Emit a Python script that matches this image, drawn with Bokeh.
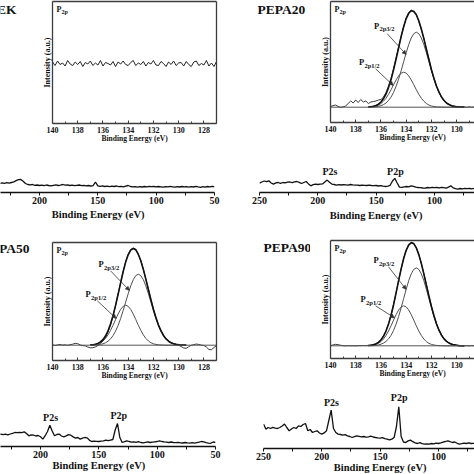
import numpy as np
from bokeh.plotting import figure
from bokeh.models import Range1d, FixedTicker, LinearAxis, Label, Arrow, NormalHead, Span, Title
from bokeh.core.properties import value
from bokeh.layouts import row, column
from bokeh.embed import file_html
from bokeh.resources import INLINE

# ---------------- survey spectra (250 -> 50 eV, 2 eV steps), intensity a.u. ----------------
survey_energy = np.linspace(250, 50, 101)
survey_ticks = [250, 200, 150, 100, 50]
survey_minor = [225, 175, 125, 75]

survey_peek = [
    8.6, 9.2, 8.4, 9.0, 8.8, 9.4, 8.7, 9.1, 9.0, 9.6,
    9.2, 9.8, 9.4, 10.0, 10.6, 11.8, 12.8, 13.0, 11.2, 9.0,
    8.0, 7.6, 8.0, 7.2, 7.5, 7.0, 7.4, 6.8, 7.5, 7.0,
    6.6, 7.2, 7.6, 7.0, 7.4, 8.0, 7.3, 7.6, 7.0, 7.4,
    6.8, 7.2, 7.5, 6.9, 7.2, 6.6, 7.0, 6.5, 6.9, 10.5,
    6.6, 6.2, 6.6, 6.0, 6.4, 5.9, 6.3, 6.0, 6.5, 5.8,
    6.1, 5.7, 6.4, 7.0, 6.0, 5.6, 5.9, 5.4, 5.8, 5.5,
    6.0, 5.7, 6.2, 5.8, 6.0, 5.6, 6.0, 5.7, 5.4, 5.9,
    5.6, 6.1, 5.7, 5.3, 5.8, 5.5, 6.0, 5.6, 5.9, 5.4,
    5.8, 5.5, 6.1, 5.6, 5.2, 5.8, 5.4, 6.0, 5.7, 6.2,
    5.9]
survey_pepa20 = [
    9.4, 10.5, 11.5, 10.8, 11.7, 9.5, 8.4, 9.6, 10.0, 9.2,
    10.0, 9.6, 10.4, 10.5, 9.8, 10.6, 11.0, 10.2, 9.0, 10.0,
    11.0, 8.6, 6.7, 7.8, 8.4, 8.0, 8.4, 8.6, 10.5, 12.4,
    10.2, 8.4, 8.0, 7.4, 7.8, 7.5, 7.8, 7.7, 7.4, 8.0,
    7.6, 7.3, 7.3, 7.0, 7.4, 7.1, 7.0, 7.3, 7.0, 6.8,
    7.0, 6.5, 6.8, 6.3, 6.0, 6.4, 7.2, 11.5, 14.2, 9.5,
    5.4, 5.2, 5.7, 6.0, 5.6, 6.6, 6.2, 5.4, 5.0, 4.8,
    4.5, 4.4, 5.0, 4.6, 5.2, 4.8, 5.0, 4.6, 5.2, 4.9,
    4.4, 5.4, 6.8, 4.6, 3.8, 3.4, 4.0, 3.6, 4.2, 3.8,
    4.0, 3.6, 4.2, 3.8, 4.0, 3.5, 4.1, 3.7, 4.0, 3.6,
    3.9]
survey_pepa50 = [
    12.0, 12.8, 12.2, 13.0, 12.5, 11.8, 12.6, 12.0, 12.4, 11.9,
    12.4, 11.7, 12.5, 13.2, 14.0, 13.8, 14.2, 13.9, 14.6, 13.0,
    10.7, 11.6, 11.3, 10.5, 11.0, 9.7, 7.4, 10.8, 15.0, 21.3,
    15.5, 10.7, 12.0, 12.4, 10.5, 9.7, 10.6, 11.8, 11.3, 9.6,
    8.4, 9.0, 7.4, 8.3, 9.0, 8.6, 6.2, 5.0, 5.4, 5.1,
    5.0, 5.3, 5.6, 6.4, 5.8, 6.4, 7.0, 16.5, 23.0, 9.0,
    4.0, 4.8, 5.7, 5.0, 4.4, 4.7, 4.2, 4.8, 4.0, 3.7,
    4.2, 4.6, 4.0, 4.4, 4.7, 5.0, 5.7, 5.0, 4.6, 4.4,
    4.0, 4.5, 4.0, 3.8, 4.2, 3.7, 3.5, 4.0, 3.6, 3.4,
    3.8, 3.4, 3.9, 4.3, 5.0, 4.6, 3.8, 3.4, 3.2, 4.5,
    4.0]
survey_pepa90 = [
    24.4, 19.4, 21.0, 20.0, 21.2, 20.4, 20.0, 21.0, 22.5, 24.4,
    21.0, 17.7, 19.5, 21.0, 20.0, 22.7, 22.0, 24.0, 25.0, 17.7,
    19.0, 16.0, 17.0, 17.7, 15.5, 14.4, 15.6, 17.7, 28.0, 38.3,
    20.0, 16.0, 14.4, 14.0, 13.4, 13.8, 12.6, 12.0, 11.0, 11.8,
    12.7, 12.2, 11.6, 12.0, 11.4, 11.7, 12.4, 11.5, 11.0, 10.6,
    10.4, 10.8, 9.8, 9.4, 8.7, 9.4, 11.0, 22.0, 41.7, 12.0,
    6.5, 6.0, 7.6, 8.4, 6.8, 5.6, 5.0, 5.8, 4.8, 4.4,
    4.6, 4.4, 5.0, 4.6, 5.4, 5.0, 5.6, 6.4, 7.0, 7.7,
    6.8, 6.0, 6.5, 5.2, 4.4, 4.8, 5.4, 5.0, 5.6, 5.0,
    5.2, 4.8, 5.3, 4.9, 5.2, 4.8, 5.0, 4.7, 5.1, 4.9,
    5.0]

# ---------------- P2p high-resolution spectra (140 -> 127 eV, 0.2 eV steps) ----------------
p2p_energy = np.linspace(140.0, 127.0, 66)
p2p_ticks = [140, 138, 136, 134, 132, 130, 128]
p2p_minor = [139, 137, 135, 133, 131, 129, 127]

p2p_peek = [
    61.5, 58.0, 62.5, 59.0, 60.5, 57.5, 63.0, 59.5, 58.0, 61.5,
    59.0, 62.0, 57.0, 61.0, 59.5, 62.5, 58.0, 60.5, 58.5, 63.0,
    57.5, 61.0, 60.0, 58.5, 62.0, 57.0, 61.5, 59.5, 62.5, 59.0,
    58.0, 61.0, 63.0, 58.0, 60.5, 59.0, 62.0, 57.5, 61.0, 59.5,
    63.0, 58.5, 58.0, 62.0, 60.0, 57.0, 61.5, 59.0, 62.5, 58.0,
    60.5, 61.0, 57.5, 62.0, 59.0, 57.0, 61.5, 62.5, 58.0, 60.0,
    58.5, 63.0, 57.5, 60.5, 57.0, 62.0]
p2p_pepa20 = [
    16.0, 16.8, 17.5, 16.0, 15.2, 15.6, 16.5, 19.0, 21.5, 19.5,
    22.5, 20.0, 23.0, 20.5, 21.5, 19.0, 20.5, 21.0, 21.5, 22.5,
    23.0, 25.5, 30.0, 36.5, 44.0, 54.0, 64.5, 75.5, 86.5, 96.0,
    104.5, 110.0, 112.5, 110.5, 108.5, 101.0, 93.0, 84.5, 73.0, 63.5,
    52.5, 44.5, 36.0, 30.8, 25.0, 22.4, 19.0, 18.2, 16.5, 16.4,
    15.4, 15.9, 15.0, 15.6, 15.1, 15.8, 15.2, 15.6, 15.0, 15.5,
    15.2, 15.7, 15.1, 15.4, 15.0, 15.3]
p2p_pepa50 = [
    15.8, 15.0, 15.6, 16.0, 15.4, 15.7, 15.2, 15.8, 16.3, 17.2,
    16.8, 15.5, 15.0, 14.6, 13.5, 12.6, 12.8, 13.6, 15.0, 17.0,
    19.5, 23.0, 28.5, 35.5, 44.5, 55.0, 66.5, 78.0, 89.0, 99.0,
    106.5, 111.0, 112.5, 111.5, 106.0, 100.0, 91.5, 81.0, 71.5, 61.0,
    51.5, 43.0, 35.5, 29.8, 25.3, 21.5, 19.5, 17.5, 16.8, 16.0,
    15.2, 14.0, 12.5, 12.2, 13.8, 15.3, 15.8, 16.5, 16.0, 15.4,
    15.0, 13.5, 11.0, 10.8, 13.0, 14.8]
p2p_pepa90 = [
    13.0, 13.5, 14.2, 13.8, 13.3, 12.8, 12.6, 12.9, 12.7, 12.8,
    12.6, 12.9, 12.8, 13.0, 12.9, 13.2, 13.4, 13.9, 14.8, 16.3,
    18.8, 22.5, 27.8, 34.6, 43.5, 54.0, 65.8, 78.0, 89.8, 100.3,
    108.5, 113.2, 115.5, 115.3, 111.0, 104.2, 95.2, 84.8, 73.8, 62.7,
    52.3, 43.0, 35.0, 28.5, 23.5, 19.8, 17.3, 15.6, 14.5, 13.8,
    13.3, 13.0, 12.8, 12.7, 12.8, 12.6, 12.9, 12.7, 12.6, 12.8,
    12.7, 12.9, 12.6, 12.8, 12.7, 12.8]

# fitted components (137.0 -> 129.4 eV, 0.2 eV steps) and baselines
fit_energy = np.linspace(137.0, 129.4, 39)
base_pepa20, base_pepa50, base_pepa90 = 15.3, 15.3, 12.7
p32_pepa20 = [15.4, 15.4, 15.5, 15.8, 16.1, 16.8, 17.9, 19.5, 22.0, 25.4,
              30.2, 36.2, 43.4, 51.8, 60.8, 69.8, 77.9, 84.5, 88.8, 90.3,
              88.8, 84.5, 77.9, 69.8, 60.8, 51.8, 43.4, 36.2, 30.2, 25.4,
              22.0, 19.5, 17.9, 16.8, 16.1, 15.8, 15.5, 15.4, 15.4]
p12_pepa20 = [15.5, 15.6, 16.0, 16.5, 17.5, 19.0, 21.3, 24.3, 28.2, 32.8,
              37.8, 42.6, 46.6, 49.4, 50.3, 49.4, 46.6, 42.6, 37.8, 32.8,
              28.2, 24.3, 21.3, 19.0, 17.5, 16.5, 16.0, 15.6, 15.5, 15.4,
              15.3, 15.3, 15.3, 15.3, 15.3, 15.3, 15.3, 15.3, 15.3]
p32_pepa50 = [15.4, 15.4, 15.5, 15.7, 16.1, 16.7, 17.7, 19.3, 21.6, 24.9,
              29.4, 35.0, 41.9, 49.9, 58.4, 66.8, 74.6, 80.8, 84.9, 86.3,
              84.9, 80.8, 74.6, 66.8, 58.4, 49.9, 41.9, 35.0, 29.4, 24.9,
              21.6, 19.3, 17.7, 16.7, 16.1, 15.7, 15.5, 15.4, 15.4]
p12_pepa50 = [15.5, 15.7, 16.1, 16.7, 17.8, 19.5, 22.1, 25.6, 30.1, 35.3,
              41.0, 46.5, 51.1, 54.2, 55.3, 54.2, 51.1, 46.5, 41.0, 35.3,
              30.1, 25.6, 22.1, 19.5, 17.8, 16.7, 16.1, 15.7, 15.5, 15.4,
              15.3, 15.3, 15.3, 15.3, 15.3, 15.3, 15.3, 15.3, 15.3]
p32_pepa90 = [12.8, 12.8, 12.9, 13.2, 13.6, 14.3, 15.4, 17.1, 19.6, 23.2,
              28.1, 34.4, 42.0, 50.7, 60.0, 69.3, 77.8, 84.7, 89.1, 90.7,
              89.1, 84.7, 77.8, 69.3, 60.0, 50.7, 42.0, 34.4, 28.1, 23.2,
              19.6, 17.1, 15.4, 14.3, 13.6, 13.2, 12.9, 12.8, 12.8]
p12_pepa90 = [12.9, 13.1, 13.5, 14.1, 15.2, 16.9, 19.5, 23.0, 27.5, 32.7,
              38.4, 43.9, 48.5, 51.6, 52.7, 51.6, 48.5, 43.9, 38.4, 32.7,
              27.5, 23.0, 19.5, 16.9, 15.2, 14.1, 13.5, 13.1, 12.9, 12.8,
              12.7, 12.7, 12.7, 12.7, 12.7, 12.7, 12.7, 12.7, 12.7]

sample_names = ["PEEK", "PEPA20", "PEPA50", "PEPA90"]

for arr in (survey_peek, survey_pepa20, survey_pepa50, survey_pepa90):
    assert len(arr) == len(survey_energy), len(arr)
for arr in (p2p_peek, p2p_pepa20, p2p_pepa50, p2p_pepa90):
    assert len(arr) == len(p2p_energy), len(arr)
for arr in (p32_pepa20, p12_pepa20, p32_pepa50, p12_pepa50, p32_pepa90, p12_pepa90):
    assert len(arr) == len(fit_energy), len(arr)

# ---------------- styling ----------------
FONT = "Liberation Serif"
INK = "#111111"
GREY = "#3c3c3c"


def txt(p, x, y, text, size, xu="data", yu="data", align="left", base="middle",
        xo=0, yo=0, color=INK):
    p.add_layout(Label(x=x, y=y, x_units=xu, y_units=yu, text=text, text_font=FONT,
                       text_font_style="bold", text_font_size=size, text_color=color,
                       text_align=align, text_baseline=base, x_offset=xo, y_offset=yo))


def sub_txt(p, x, y, main, sub, size_main, size_sub, dx, dy, xu="data", yu="data"):
    txt(p, x, y, main, size_main, xu=xu, yu=yu)
    txt(p, x, y, sub, size_sub, xu=xu, yu=yu, xo=dx, yo=dy)


def border_axis(label=None):
    ax = LinearAxis(ticker=FixedTicker(ticks=[]), axis_line_color=GREY, axis_line_width=1.3,
                    major_tick_line_color=None, minor_tick_line_color=None,
                    major_label_text_font_size="0px", major_label_standoff=0)
    if label:
        ax.axis_label = label
        ax.axis_label_standoff = 1
        ax.axis_label_text_font = FONT
        ax.axis_label_text_font_style = "bold"
        ax.axis_label_text_font_size = "8px"
        ax.axis_label_text_color = INK
    return ax


def axis_title(p, text, size, offset, standoff):
    p.add_layout(Title(text=text, align="left", offset=offset, standoff=standoff,
                       vertical_align="top", text_font=FONT, text_font_style="bold",
                       text_font_size=size, text_color=INK), "below")


def make_name(width, height, name, x, y, align):
    # small panel holding the sample name; its data range is its own pixel grid
    p = figure(width=width, height=height, x_range=Range1d(0, width), y_range=Range1d(0, height),
               output_backend="svg", toolbar_location=None, x_axis_location=None,
               y_axis_location=None, min_border_left=0, min_border_right=0, min_border_top=0,
               min_border_bottom=0)
    p.grid.visible = False
    p.outline_line_color = None
    p.text(x=[x], y=[y], text=[name], text_font=value(FONT), text_font_style="bold",
           text_font_size=value("13.5px"), text_color=INK, text_align=align,
           text_baseline="middle")
    return p


def make_inset(width, height, bl, br, bt, bb, xend, ytop, right_border):
    p = figure(width=width, height=height, x_range=Range1d(140, xend), y_range=Range1d(0, ytop),
               output_backend="svg", toolbar_location=None, y_axis_location=None,
               min_border_left=bl, min_border_right=br, min_border_top=bt, min_border_bottom=bb)
    p.grid.visible = False
    p.outline_line_color = None
    ax = p.xaxis[0]
    ax.ticker = FixedTicker(ticks=p2p_ticks, minor_ticks=p2p_minor)
    ax.major_tick_in = 3
    ax.major_tick_out = 0
    ax.minor_tick_in = 2
    ax.minor_tick_out = 0
    ax.major_tick_line_color = GREY
    ax.minor_tick_line_color = GREY
    ax.axis_line_color = GREY
    ax.axis_line_width = 1.3
    ax.major_label_text_font = FONT
    ax.major_label_text_font_style = "bold"
    ax.major_label_text_font_size = "8px"
    ax.major_label_text_color = INK
    ax.major_label_standoff = 3
    p.add_layout(border_axis("Intensity (a.u.)"), "left")
    p.add_layout(border_axis(), "above")
    if right_border:
        p.add_layout(border_axis(), "right")
    axis_title(p, "Binding Energy (eV)", "7.5px", 49, -3.4)
    sub_txt(p, 4, ytop - 7.5, "P", "2p", "8px", "6px", 5, -3, xu="screen", yu="screen")
    return p


def add_fit(p, raw, p32, p12, base, lab32, lab12, arr32, arr12):
    env = np.array(p32) + np.array(p12) - base
    p.add_layout(Span(location=base, dimension="width", line_color="#555555", line_width=1))
    p.line(fit_energy, p12, line_color="#505050", line_width=1)
    p.line(fit_energy, p32, line_color="#505050", line_width=1)
    p.line(p2p_energy, raw, line_color="#3a3a3a", line_width=1)
    p.line(fit_energy, env, line_color="#111111", line_width=1.6)
    sub_txt(p, lab32[0], lab32[1], "P", "2p3/2", "8.5px", "6.5px", 5.5, -3)
    sub_txt(p, lab12[0], lab12[1], "P", "2p1/2", "8.5px", "6.5px", 5.5, -3)
    for a in (arr32, arr12):
        p.add_layout(Arrow(end=NormalHead(size=4, line_color="#333333", fill_color="#333333",
                                          line_width=0.5),
                           x_start=a[0], y_start=a[1], x_end=a[2], y_end=a[3],
                           line_color="#333333", line_width=0.8))


def make_survey(height, bl, br, bb, xstart, xend, ytop, values, t_offset, t_standoff):
    p = figure(width=237, height=height, x_range=Range1d(xstart, xend), y_range=Range1d(0, ytop),
               output_backend="svg", toolbar_location=None, y_axis_location=None,
               min_border_left=bl, min_border_right=br, min_border_top=0, min_border_bottom=bb)
    p.grid.visible = False
    p.outline_line_color = None
    ax = p.xaxis[0]
    ax.ticker = FixedTicker(ticks=survey_ticks, minor_ticks=survey_minor)
    ax.major_tick_in = 0
    ax.major_tick_out = 3
    ax.minor_tick_in = 0
    ax.minor_tick_out = 3
    ax.major_tick_line_color = INK
    ax.minor_tick_line_color = INK
    ax.axis_line_color = INK
    ax.axis_line_width = 1.3
    ax.major_label_text_font = FONT
    ax.major_label_text_font_style = "bold"
    ax.major_label_text_font_size = "10px"
    ax.major_label_text_color = INK
    ax.major_label_standoff = 1
    p.line(survey_energy, values, line_color=INK, line_width=1.3)
    axis_title(p, "Binding Energy (eV)", "10.5px", t_offset, t_standoff)
    return p


# ---------------- PEEK ----------------
tl_name = make_name(30, 145, sample_names[0], 16, 136, "right")
tl_in = make_inset(207, 145, 22, 21, 1, 22, 127, 122, True)
tl_in.line(p2p_energy, p2p_peek, line_color="#222222", line_width=1)
tl_sv = make_survey(85, 0, 23, 38, 233.4, 50, 47, survey_peek, 51.3, 5.8)

# ---------------- PEPA20 ----------------
tr_name = make_name(73, 145, sample_names[1], 20, 136, "left")
tr_in = make_inset(164, 145, 20, 0, 1, 23, 128.585, 121, False)
add_fit(tr_in, p2p_pepa20, p32_pepa20, p12_pepa20, base_pepa20,
        (136.56, 97), (137.75, 60.3), (135.5, 88.7, 134.0, 68), (136.43, 53.7, 135.02, 37))
tr_sv = make_survey(85, 22, 0, 38, 250, 65.7, 47, survey_pepa20, 70.3, 7)
txt(tr_sv, 189.6, 21.3, "P2s", "10px", align="center")
txt(tr_sv, 133.5, 21.3, "P2p", "10px", align="center")

# ---------------- PEPA50 ----------------
bl_name = make_name(30, 150, sample_names[2], 29, 142, "right")
bl_in = make_inset(207, 150, 22, 21, 12, 20, 127, 118, True)
add_fit(bl_in, p2p_pepa50, p32_pepa50, p12_pepa50, base_pepa50,
        (136.35, 96.3), (137.38, 66.3), (135.4, 89.7, 133.9, 70), (136.45, 59.7, 134.95, 42))
bl_sv = make_survey(94, 0, 22, 28, 234.3, 50, 66, survey_pepa50, 52, -0.5)
txt(bl_sv, 191.4, 29.3, "P2s", "10px", align="center")
txt(bl_sv, 132.9, 31, "P2p", "10px", align="center")

# ---------------- PEPA90 ----------------
br_name = make_name(73, 150, sample_names[3], 26, 141.5, "left")
br_in = make_inset(164, 150, 20, 0, 10, 22, 128.585, 118, False)
add_fit(br_in, p2p_pepa90, p32_pepa90, p12_pepa90, base_pepa90,
        (136.59, 98.3), (137.62, 59.3), (135.4, 91.7, 134.0, 69), (136.43, 52.7, 134.92, 40.6))
br_sv = make_survey(94, 26, 0, 26, 250, 69.1, 68, survey_pepa90, 70.3, -1.8)
txt(br_sv, 191.7, 46.3, "P2s", "10px", align="center")
txt(br_sv, 133.7, 51.3, "P2p", "10px", align="center")

layout = column(
    row(column(row(tl_name, tl_in), tl_sv), column(row(tr_name, tr_in), tr_sv)),
    row(column(row(bl_name, bl_in), bl_sv), column(row(br_name, br_in), br_sv)),
)

open("out.html", "w").write(file_html(layout, INLINE, title="XPS spectra"))
